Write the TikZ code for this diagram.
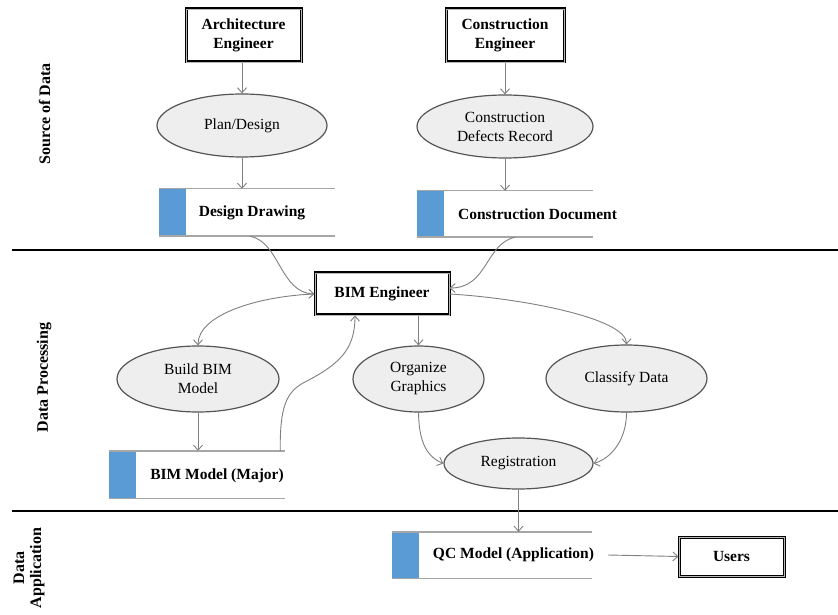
\documentclass[tikz,border=0pt]{standalone}
\usepackage{fontspec}
\setmainfont{Liberation Serif}
\usetikzlibrary{shapes.geometric,arrows.meta,calc}
\definecolor{storeblue}{HTML}{5B9BD5}
\definecolor{ellfill}{HTML}{EEEEEE}
\definecolor{ellline}{HTML}{555555}
\definecolor{conngray}{HTML}{808080}
\definecolor{storeline}{HTML}{A6A6A6}
\begin{document}
\begin{tikzpicture}[x=1pt,y=1pt,
  fnt/.style={font=\fontsize{15.5}{19}\selectfont},
  bfnt/.style={font=\bfseries\fontsize{15.5}{19}\selectfont},
  actor/.style={bfnt, align=center, draw=black, line width=1.1pt, double=gray!55, double distance=0.8pt, inner sep=0pt},
  ell/.style={fnt, ellipse, align=center, draw=ellline, line width=1.2pt, fill=ellfill, inner sep=0pt},
  storebox/.style={inner sep=0pt},
  stxt/.style={bfnt, inner sep=0pt},
  lane/.style={font=\bfseries\fontsize{16}{17}\selectfont, rotate=90, align=center},
  sep/.style={draw=black, line width=2.6pt},
  conn/.style={draw=conngray, line width=0.9pt, -{Straight Barb[length=5pt,width=9pt]}},
  sline/.style={draw=storeline, line width=1.4pt}]
\useasboundingbox (0,0) rectangle (838,614);
\fill[white] (0,0) rectangle (838,614);

% separators
\draw[sep] (12,364) -- (838,364);
\draw[sep] (12,103) -- (838,103);

% lane labels
\node[lane] (l1) at (44.5,500) {Source of Data};
\node[lane] (l2) at (44,236.5) {Data Processing};
\node[lane] (l3) at (29,46) {Data\\Application};

% source of data
\node[actor, minimum width=115, minimum height=53] (ae) at (243.5,578.5) {Architecture\\Engineer};
\node[actor, minimum width=118, minimum height=53] (ce) at (505,578.5) {Construction\\Engineer};
\node[ell, minimum width=170, minimum height=63] (pd) at (242,488.5) {Plan/Design};
\node[ell, minimum width=176, minimum height=63] (cdr) at (505,487.5) {Construction\\Defects Record};
\node[storebox, minimum width=176, minimum height=47] (dd) at (247,401.5) {};
\node[storebox, minimum width=176, minimum height=46] (cd) at (505,400) {};

% processing
\node[actor, minimum width=134, minimum height=42] (bim) at (382,320) {BIM Engineer};
\node[ell, minimum width=162, minimum height=66] (bbm) at (198,235) {Build BIM\\Model};
\node[ell, minimum width=131, minimum height=66] (og) at (418.5,235) {Organize\\Graphics};
\node[ell, minimum width=161, minimum height=67] (cls) at (626.5,235.5) {Classify Data};
\node[ell, minimum width=149, minimum height=51] (reg) at (518.5,150.5) {Registration};
\node[storebox, minimum width=176, minimum height=47] (bm) at (197,139.5) {};

% application
\node[storebox, minimum width=200, minimum height=46] (qc) at (492,59) {};
\node[actor, minimum width=105, minimum height=39] (us) at (731.5,57.5) {Users};

% data stores
\foreach \s in {dd,cd,bm,qc}{
  \fill[storeblue] (\s.north west) rectangle ([xshift=27]\s.south west);
  \draw[sline] (\s.north west) -- (\s.north east);
  \draw[sline] (\s.south west) -- (\s.south east);
}
\node[stxt] (ddt) at (252,401) {Design Drawing};
\node[stxt] (cdt) at (537.5,400) {Construction Document};
\node[stxt] (bmt) at (217,138) {BIM Model (Major)};
\node[stxt] (qct) at (513.5,59) {QC Model (Application)};

% connectors
\draw[conn] (pd.north |- ae.south) -- (pd.north);
\draw[conn] (pd.south) -- (pd.south |- dd.north);
\draw[conn] (cdr.north |- ce.south) -- (cdr.north);
\draw[conn] (cdr.south) -- (cdr.south |- cd.north);
\draw[conn] ([xshift=3]dd.south) .. controls (280,372) and (280,321) .. (bim.west);
\draw[conn] ([xshift=10]cd.south) .. controls (485,370) and (488,326) .. ([yshift=6]bim.east);
\draw[conn] (bim.west) .. controls (260,318) and (198,300) .. (bbm.north);
\draw[conn] (bbm.south) -- (bbm.south |- bm.north);
\draw[conn] ([xshift=-5]bm.north east) .. controls (280,205) and (285,222) .. (305,232)
   .. controls (340,250) and (355,265) .. ([xshift=-27]bim.south);
\draw[conn] (og.north |- bim.south) -- (og.north);
\draw[conn] (bim.east) .. controls (520,316) and (626.5,296) .. (cls.north);
\draw[conn] (og.south) .. controls (419,175) and (425,158) .. (reg.west);
\draw[conn] (cls.south) .. controls (626.5,175) and (612,156) .. (reg.east);
\draw[conn] (reg.south) -- (reg.south |- qc.north);
\draw[conn] ([xshift=16]qc.east) -- (us.west);
\end{tikzpicture}
\end{document}
